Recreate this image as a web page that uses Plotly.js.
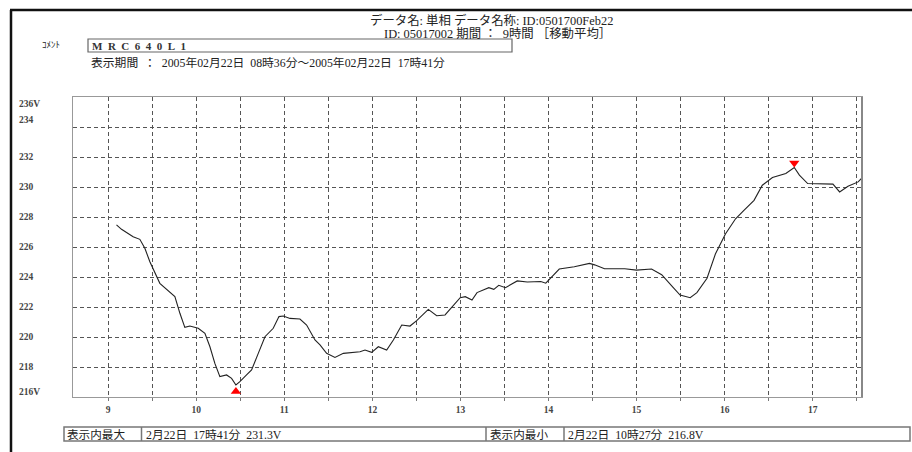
<!DOCTYPE html>
<html>
<head>
<meta charset="utf-8">
<script src="https://cdn.plot.ly/plotly-3.0.1.min.js"></script>
<style>html,body{margin:0;padding:0;background:#fff;}#chart{width:912px;height:452px;}</style>
</head>
<body>
<div id="chart"></div>
<script>
// ---- data ----
var hours = [9.094,9.151,9.283,9.359,9.416,9.473,9.586,9.662,9.757,9.814,9.870,9.927,10.022,10.098,10.155,10.211,10.268,10.344,10.401,10.450,10.495,10.571,10.628,10.704,10.780,10.874,10.939,10.988,11.064,11.177,11.253,11.348,11.405,11.480,11.575,11.670,11.745,11.859,11.916,11.992,12.067,12.162,12.238,12.333,12.427,12.503,12.635,12.730,12.825,12.997,13.055,13.131,13.188,13.322,13.379,13.435,13.511,13.645,13.759,13.912,13.969,14.122,14.293,14.465,14.523,14.636,14.866,14.999,15.170,15.285,15.399,15.494,15.609,15.685,15.800,15.895,16.009,16.124,16.219,16.334,16.428,16.543,16.695,16.791,16.849,16.943,17.230,17.306,17.401,17.516,17.560];
var volts = [227.47,227.18,226.69,226.51,225.91,225.02,223.58,223.18,222.69,221.58,220.64,220.73,220.58,220.24,219.35,218.24,217.36,217.47,217.24,216.80,217.02,217.47,217.80,218.91,220.02,220.58,221.36,221.40,221.24,221.20,220.80,219.80,219.47,218.91,218.64,218.91,218.96,219.02,219.13,218.98,219.35,219.13,219.80,220.80,220.73,221.09,221.84,221.42,221.47,222.62,222.69,222.47,222.96,223.29,223.18,223.45,223.29,223.74,223.67,223.70,223.59,224.53,224.68,224.91,224.81,224.55,224.55,224.46,224.53,224.15,223.41,222.80,222.62,222.96,223.92,225.53,226.87,227.88,228.44,229.11,230.12,230.63,230.90,231.30,230.79,230.23,230.19,229.67,230.05,230.34,230.60];
var yTickVals = [216,218,220,222,224,226,228,230,232,234,236];
var yTickLabels = ['216V','218','220','222','224','226','228','230','232','234','236V'];
var xTickVals = [9,10,11,12,13,14,15,16,17];
var xTickLabels = ['9','10','11','12','13','14','15','16','17'];
var headerLine1 = 'データ名: 単相 データ名称: ID:0501700Feb22';
var headerLine2 = 'ID: 05017002 期間 ：  9時間 ［移動平均］';
var commentLabel = 'ｺﾒﾝﾄ';
var commentText = 'MRC640L1';
var periodText = '表示期間  ：  2005年02月22日  08時36分～2005年02月22日  17時41分';
var maxLabel = '表示内最大';
var maxText = '2月22日  17時41分  231.3V';
var minLabel = '表示内最小';
var minText = '2月22日  10時27分  216.8V';

// ---- geometry helpers (pixel -> paper) ----
var L = 73, R = 862, T = 97, B = 397;
function px(x){ return (x - L) / (R - L); }
function py(y){ return (B - y) / (B - T); }

// min / max from data
var iMin = 0, iMax = 0;
for (var i = 0; i < volts.length; i++) {
  if (volts[i] < volts[iMin]) iMin = i;
  if (volts[i] > volts[iMax]) iMax = i;
}
var markerOffsetV = {min: -0.43, max: 0.3};

var serif = 'Liberation Serif, Noto Sans CJK JP, serif';
var jp = 'Liberation Serif, Noto Sans CJK JP, sans-serif';

var traces = [
  {x: hours, y: volts, type: 'scatter', mode: 'lines',
   line: {color: '#222', width: 1.1}, hoverinfo: 'x+y', showlegend: false},
  {x: [hours[iMin]], y: [volts[iMin] + markerOffsetV.min], type: 'scatter', mode: 'markers',
   marker: {symbol: 'triangle-up', size: 9, color: '#ff0000'}, showlegend: false},
  {x: [hours[iMax]], y: [volts[iMax] + markerOffsetV.max], type: 'scatter', mode: 'markers',
   marker: {symbol: 'triangle-down', size: 9, color: '#ff0000'}, showlegend: false}
];

var yShift = {'236V': -7, '234': 7, '216V': 5};
var annotations = [];
for (var k = 0; k < yTickVals.length; k++) {
  annotations.push({xref: 'paper', yref: 'y', x: px(17), y: yTickVals[k],
    text: yTickLabels[k], showarrow: false, xanchor: 'left', yanchor: 'middle',
    yshift: (yShift[yTickLabels[k]] || 0),
    font: {family: serif, size: 9.5, color: '#444', weight: 'bold'}});
}
function txt(t, x, y, size, anchor, color, weight){
  annotations.push({xref: 'paper', yref: 'paper', x: px(x), y: py(y), text: t,
    showarrow: false, xanchor: anchor || 'left', yanchor: 'middle',
    font: {family: jp, size: size, color: color || '#222', weight: weight || 'normal'}});
}
txt(headerLine1, 368, 20.5, 12.4);
txt(headerLine2, 382, 34, 12.4);
txt(commentLabel, 40, 45, 9);
txt(commentText.split('').join('\u00a0\u00a0'), 90, 45.5, 11, 'left', '#333', 'bold');
txt(periodText, 89, 63, 11.8);
txt(maxLabel, 65, 434.5, 11.6);
txt(maxText, 144, 434.5, 11.8);
txt(minLabel, 488, 434.5, 11.6);
txt(minText, 566, 434.5, 11.8);

function rect(x0, y0, x1, y1, color, w){
  return {type: 'rect', xref: 'paper', yref: 'paper', x0: px(x0), x1: px(x1), y0: py(y0), y1: py(y1),
    line: {color: color, width: w}, fillcolor: 'rgba(0,0,0,0)', layer: 'above'};
}
function seg(x0, y0, x1, y1, color, w){
  return {type: 'line', xref: 'paper', yref: 'paper', x0: px(x0), x1: px(x1), y0: py(y0), y1: py(y1),
    line: {color: color, width: w}, layer: 'above'};
}
var shapes = [
  seg(10, 10, 912, 10, '#111', 2.5),
  seg(11, 10, 11, 452, '#111', 2.5),
  rect(88, 39, 512, 52, '#666', 1.2),
  rect(64, 427, 910, 441, '#777', 1.5),
  seg(141.5, 427, 141.5, 441, '#777', 1.5),
  seg(486, 427, 486, 441, '#777', 1.5),
  seg(564, 427, 564, 441, '#777', 1.5),
  seg(R, T, R, B, '#888', 2)
];

var layout = {
  width: 912, height: 452,
  margin: {l: L, r: 912 - R, t: T, b: 452 - B, pad: 0},
  paper_bgcolor: '#fff', plot_bgcolor: '#fff',
  showlegend: false,
  xaxis: {range: [8.6, 17.56], tickvals: xTickVals, ticktext: xTickLabels,
    showgrid: true, gridcolor: '#555', griddash: '4px,3px', gridwidth: 1,
    ticks: 'outside', ticklen: 3, tickcolor: '#777',
    minor: {dtick: 0.5, tick0: 0, showgrid: true, gridcolor: '#555', griddash: '4px,3px', gridwidth: 1,
      ticks: 'outside', ticklen: 3, tickcolor: '#777'},
    showline: true, mirror: true, linecolor: '#999', linewidth: 1.2, zeroline: false,
    tickfont: {family: serif, size: 9.5, color: '#444', weight: 'bold'}, fixedrange: true},
  yaxis: {range: [216, 236], dtick: 2, tick0: 216, showticklabels: false,
    showgrid: true, gridcolor: '#555', griddash: '4px,3px', gridwidth: 1,
    showline: true, mirror: true, linecolor: '#999', linewidth: 1.2, zeroline: false, fixedrange: true},
  annotations: annotations,
  shapes: shapes
};

Plotly.newPlot('chart', traces, layout, {displayModeBar: false, staticPlot: true});
</script>
</body>
</html>
